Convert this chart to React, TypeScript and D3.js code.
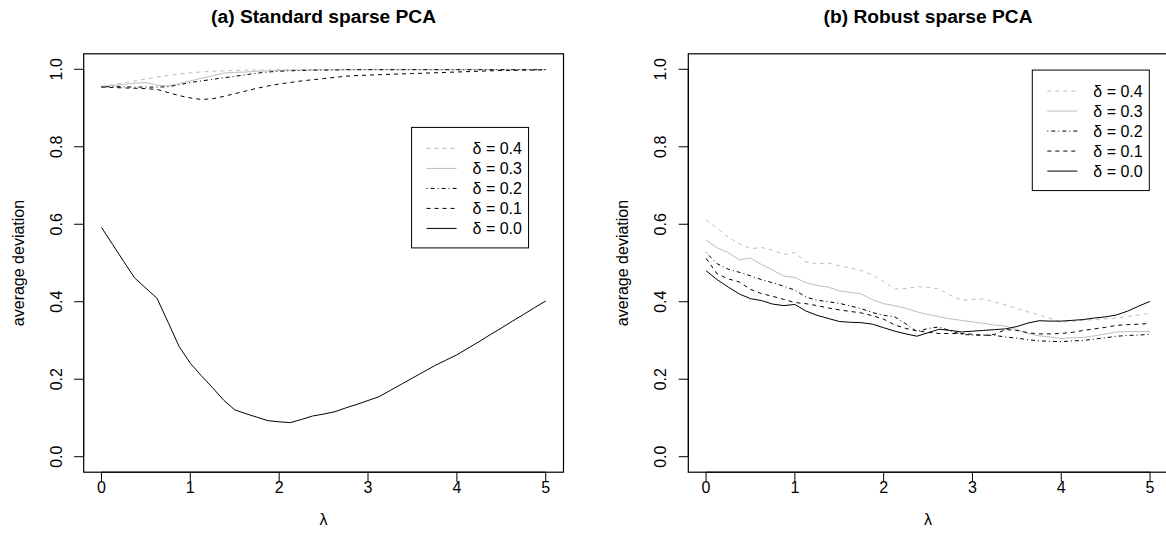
import React from 'react';
import * as d3 from 'd3';

// lambda grid shared by every curve
const lambda = [
  0, 0.125, 0.25, 0.375, 0.5, 0.625, 0.75, 0.875, 1, 1.125, 1.25, 1.375, 1.5, 1.625,
  1.75, 1.875, 2, 2.125, 2.25, 2.375, 2.5, 2.625, 2.75, 2.875, 3, 3.125, 3.25, 3.375,
  3.5, 3.625, 3.75, 3.875, 4, 4.125, 4.25, 4.375, 4.5, 4.625, 4.75, 4.875, 5,
];

const xTicks = [0, 1, 2, 3, 4, 5];
const yTicks = [0, 0.2, 0.4, 0.6, 0.8, 1.0];
const deltaLabels = ['0.4', '0.3', '0.2', '0.1', '0.0'];
const titles = ['(a) Standard sparse PCA', '(b) Robust sparse PCA'];

// (a) standard sparse PCA
const stdD04 = [
  0.956, 0.96, 0.965, 0.97, 0.975, 0.98, 0.984, 0.988, 0.991, 0.993, 0.995, 0.996, 0.997, 0.998,
  0.998, 0.998, 0.999, 0.999, 0.999, 0.999, 0.999, 0.999, 0.999, 0.999, 0.999, 0.999, 0.999, 0.999,
  0.999, 0.999, 0.999, 0.999, 0.999, 0.999, 0.999, 0.999, 0.999, 0.999, 0.999, 0.999, 0.999,
];
const stdD03 = [
  0.955, 0.958, 0.961, 0.964, 0.966, 0.959, 0.957, 0.963, 0.97, 0.977, 0.983, 0.99, 0.992, 0.993,
  0.995, 0.996, 0.997, 0.998, 0.998, 0.998, 0.999, 0.999, 0.999, 0.999, 0.999, 0.999, 0.999, 0.999,
  0.999, 0.999, 0.999, 0.999, 0.999, 0.999, 0.999, 0.999, 0.999, 0.999, 0.999, 0.999, 0.999,
];
const stdD02 = [
  0.955, 0.955, 0.955, 0.954, 0.954, 0.954, 0.955, 0.96, 0.966, 0.97, 0.974, 0.978, 0.982, 0.986,
  0.99, 0.993, 0.995, 0.996, 0.997, 0.998, 0.998, 0.998, 0.999, 0.999, 0.999, 0.999, 0.999, 0.999,
  0.999, 0.999, 0.999, 0.999, 0.999, 0.999, 0.999, 0.999, 0.999, 0.999, 0.999, 0.999, 0.999,
];
const stdD01 = [
  0.954, 0.953, 0.952, 0.951, 0.95, 0.948, 0.94, 0.932, 0.926, 0.922, 0.924, 0.93, 0.937, 0.944,
  0.951, 0.957, 0.962, 0.966, 0.97, 0.973, 0.976, 0.979, 0.982, 0.984, 0.985, 0.986, 0.987, 0.988,
  0.989, 0.99, 0.991, 0.992, 0.993, 0.994, 0.995, 0.996, 0.997, 0.997, 0.998, 0.998, 0.999,
];
const stdD00 = [
  0.592, 0.548, 0.504, 0.461, 0.435, 0.409, 0.347, 0.284, 0.241, 0.209, 0.178, 0.146, 0.121, 0.111,
  0.102, 0.093, 0.09, 0.088, 0.096, 0.105, 0.11, 0.116, 0.126, 0.135, 0.145, 0.155, 0.171, 0.187,
  0.203, 0.219, 0.235, 0.249, 0.263, 0.28, 0.297, 0.315, 0.332, 0.35, 0.367, 0.385, 0.402,
];

// (b) robust sparse PCA
const robD04 = [
  0.612, 0.59, 0.567, 0.55, 0.537, 0.54, 0.533, 0.522, 0.527, 0.503, 0.498, 0.5, 0.493, 0.487,
  0.48, 0.469, 0.452, 0.433, 0.434, 0.439, 0.437, 0.433, 0.417, 0.404, 0.406, 0.407, 0.399, 0.392,
  0.383, 0.374, 0.366, 0.357, 0.347, 0.349, 0.352, 0.354, 0.356, 0.358, 0.362, 0.366, 0.37,
];
const robD03 = [
  0.559, 0.539, 0.527, 0.508, 0.513, 0.496, 0.482, 0.466, 0.463, 0.449, 0.442, 0.438, 0.428, 0.424,
  0.42, 0.405, 0.395, 0.39, 0.383, 0.374, 0.367, 0.361, 0.356, 0.352, 0.348, 0.344, 0.34, 0.337,
  0.328, 0.318, 0.312, 0.309, 0.305, 0.307, 0.308, 0.312, 0.317, 0.322, 0.323, 0.323, 0.323,
];
const robD02 = [
  0.527, 0.498, 0.484, 0.476, 0.467, 0.457, 0.449, 0.44, 0.43, 0.412, 0.404, 0.4, 0.396, 0.389,
  0.382, 0.372, 0.365, 0.361, 0.343, 0.323, 0.331, 0.335, 0.325, 0.316, 0.314, 0.314, 0.313, 0.309,
  0.306, 0.302, 0.299, 0.298, 0.297, 0.299, 0.3, 0.304, 0.307, 0.311, 0.313, 0.314, 0.316,
];
const robD01 = [
  0.512, 0.472, 0.459, 0.451, 0.432, 0.421, 0.414, 0.406, 0.398, 0.395, 0.39, 0.384, 0.379, 0.375,
  0.371, 0.364, 0.355, 0.34, 0.331, 0.325, 0.321, 0.318, 0.318, 0.318, 0.316, 0.313, 0.316, 0.328,
  0.326, 0.32, 0.317, 0.317, 0.318, 0.321, 0.326, 0.33, 0.334, 0.339, 0.341, 0.342, 0.344,
];
const robD00 = [
  0.48, 0.457, 0.438, 0.42, 0.408, 0.403, 0.394, 0.39, 0.393, 0.376, 0.365, 0.357, 0.349, 0.347,
  0.346, 0.342, 0.333, 0.324, 0.317, 0.311, 0.32, 0.329, 0.326, 0.322, 0.324, 0.326, 0.328, 0.33,
  0.336, 0.345, 0.351, 0.35, 0.35, 0.352, 0.354, 0.358, 0.361, 0.366, 0.376, 0.389, 0.401,
];

const panelSeries = [
  [stdD04, stdD03, stdD02, stdD01, stdD00],
  [robD04, robD03, robD02, robD01, robD00],
];
// legend top-left corner, in data units
const legendAnchors = [
  [3.49, 0.85],
  [3.674, 0.998],
];

const styles = [
  { stroke: '#bebebe', dash: '4,4' },
  { stroke: '#bebebe', dash: undefined },
  { stroke: '#000', dash: '1,3,4,3' },
  { stroke: '#000', dash: '4,4' },
  { stroke: '#000', dash: undefined },
];

const FONT = '"Liberation Sans", Arial, Helvetica, sans-serif';
const W = 1166;
const H = 556;
const boxes = [
  { left: 83.7, right: 563.5, top: 53.8, bottom: 472.2 },
  { left: 688.3, right: 1167.8, top: 53.8, bottom: 472.2 },
];

function Panel({ idx }: { idx: number }) {
  const box = boxes[idx];
  const x = d3.scaleLinear().domain([-0.2, 5.2]).range([box.left, box.right]);
  const y = d3.scaleLinear().domain([-0.04, 1.04]).range([box.bottom, box.top]);
  const line = d3
    .line<number>()
    .x((_, i) => x(lambda[i]))
    .y(d => y(d));
  const cx = (box.left + box.right) / 2;
  const cy = (box.top + box.bottom) / 2;
  const [lx, ly] = legendAnchors[idx];
  const legX = x(lx);
  const legY = y(ly);

  return (
    <g fontFamily={FONT} fill="#000">
      <text x={cx} y={23} textAnchor="middle" fontWeight="bold" fontSize={19.2}>
        {titles[idx]}
      </text>
      <rect
        x={box.left}
        y={box.top}
        width={box.right - box.left}
        height={box.bottom - box.top}
        fill="none"
        stroke="#000"
        strokeWidth={1.2}
      />
      {panelSeries[idx].map((s, i) => (
        <path
          key={i}
          d={line(s) || ''}
          fill="none"
          stroke={styles[i].stroke}
          strokeWidth={1}
          strokeDasharray={styles[i].dash}
        />
      ))}
      {/* x axis */}
      <line x1={x(0)} x2={x(5)} y1={box.bottom} y2={box.bottom} stroke="#000" />
      {xTicks.map(t => (
        <g key={t}>
          <line x1={x(t)} x2={x(t)} y1={box.bottom} y2={box.bottom + 9.6} stroke="#000" />
          <text x={x(t)} y={box.bottom + 21} textAnchor="middle" fontSize={16}>
            {t}
          </text>
        </g>
      ))}
      <text x={cx} y={box.bottom + 53} textAnchor="middle" fontSize={16}>
        λ
      </text>
      {/* y axis */}
      <line x1={box.left} x2={box.left} y1={y(0)} y2={y(1)} stroke="#000" />
      {yTicks.map(t => (
        <g key={t}>
          <line x1={box.left - 9.6} x2={box.left} y1={y(t)} y2={y(t)} stroke="#000" />
          <text
            transform={`translate(${box.left - 22},${y(t)}) rotate(-90)`}
            textAnchor="middle"
            fontSize={16}
          >
            {d3.format('.1f')(t)}
          </text>
        </g>
      ))}
      <text
        transform={`translate(${box.left - 60},${cy}) rotate(-90)`}
        textAnchor="middle"
        fontSize={16}
      >
        average deviation
      </text>
      {/* legend */}
      <rect x={legX} y={legY} width={117} height={120.5} fill="#fff" stroke="#000" />
      {deltaLabels.map((lab, i) => {
        const yy = legY + 21 + i * 20;
        return (
          <g key={lab}>
            <line
              x1={legX + 15}
              x2={legX + 45}
              y1={yy}
              y2={yy}
              stroke={styles[i].stroke}
              strokeDasharray={styles[i].dash}
            />
            <text x={legX + 61} y={yy + 5.7} fontSize={16}>
              {'δ = ' + lab}
            </text>
          </g>
        );
      })}
    </g>
  );
}

export default function App() {
  return (
    <div style={{ position: 'absolute', left: 0, top: 0 }}>
      <svg width={W} height={H} style={{ display: 'block', background: '#fff' }}>
        <Panel idx={0} />
        <Panel idx={1} />
      </svg>
    </div>
  );
}
